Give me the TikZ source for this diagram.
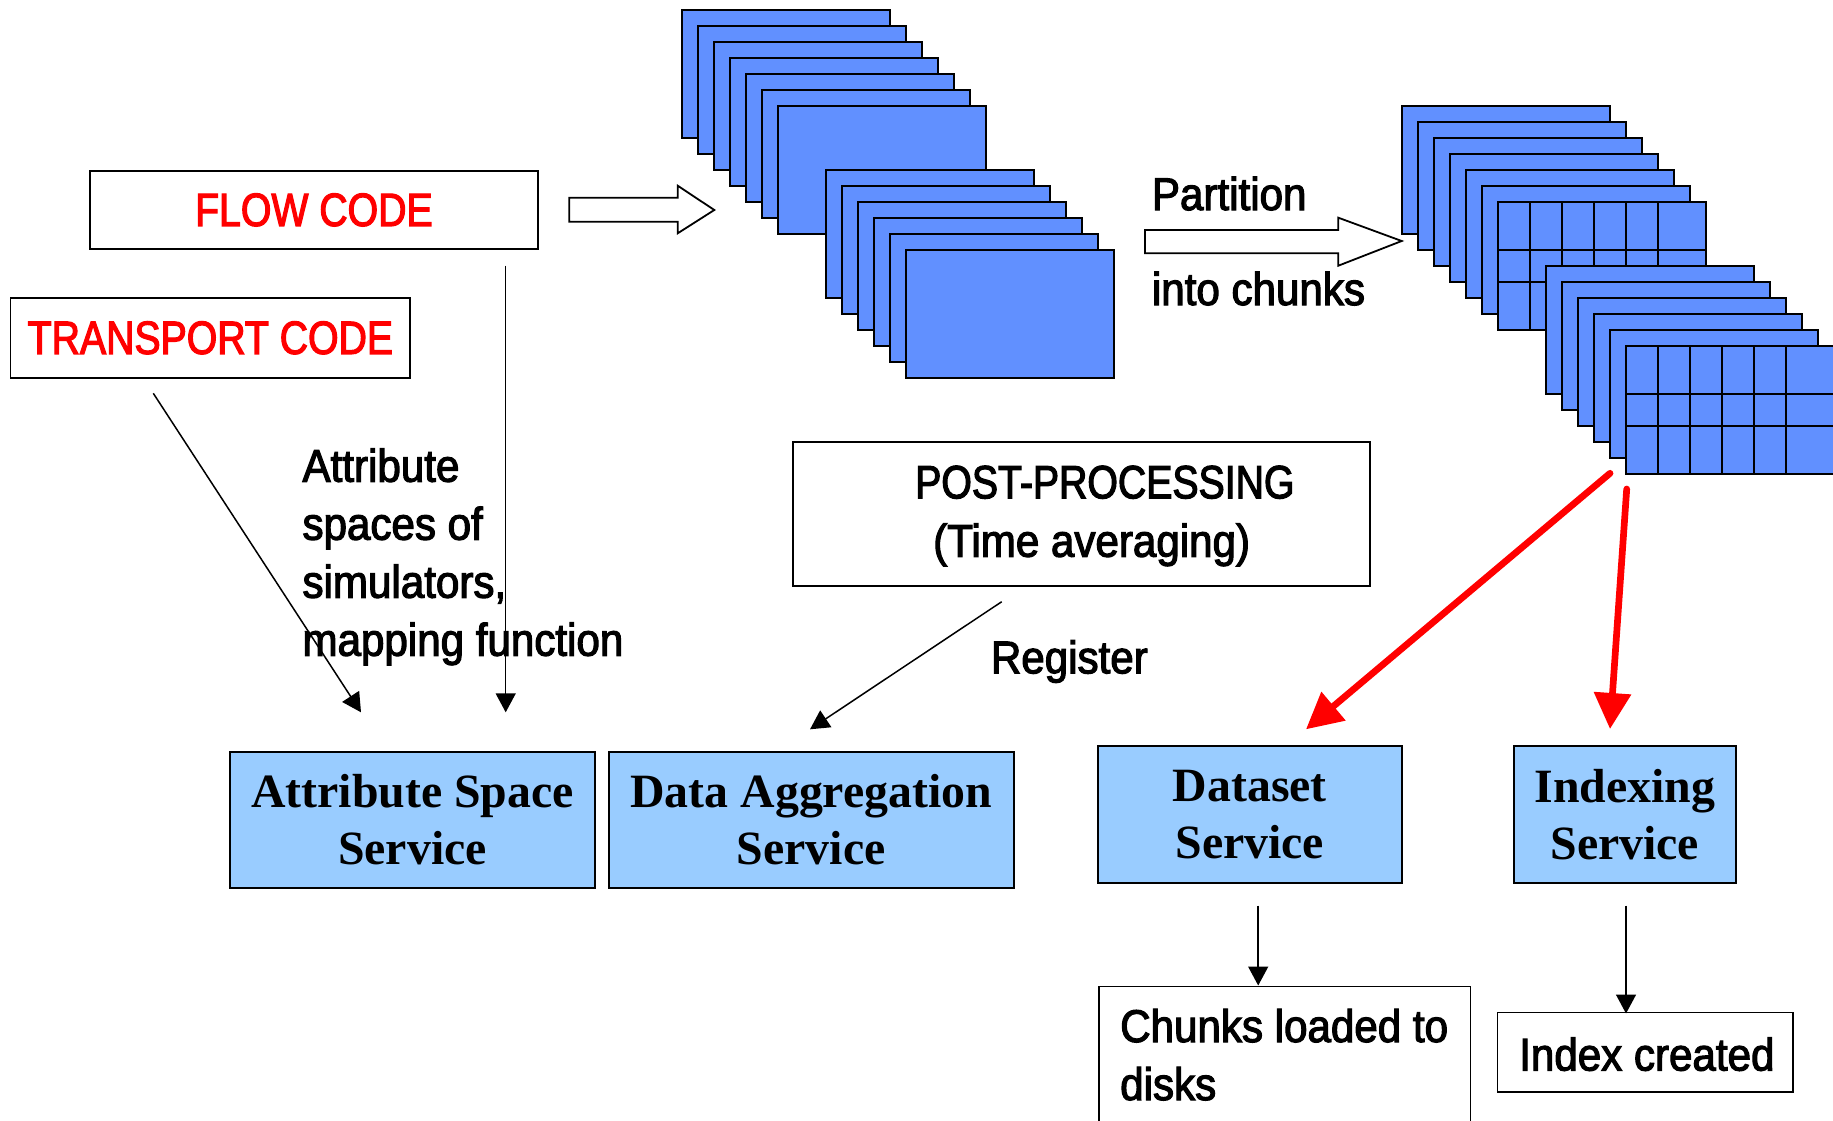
\documentclass[tikz,border=0pt]{standalone}
\usepackage{fontspec}
\usetikzlibrary{arrows.meta}

% Fonts: a narrow grotesque for labels, a bold serif for the services
\newfontfamily\labelfont[FakeStretch=0.92,FakeBold=2.5]{Liberation Sans}
\newfontfamily\capsfont[FakeStretch=0.84,FakeBold=2.5]{Liberation Sans}
\newfontfamily\servfont{Liberation Serif}

\definecolor{chunkblue}{RGB}{97,144,255}
\definecolor{svcblue}{RGB}{153,204,255}
\definecolor{codered}{RGB}{255,0,0}

\tikzset{
  plate/.style={draw=black, line width=1.8pt, fill=chunkblue},
  gridline/.style={draw=black, line width=1.8pt},
  hollowarrow/.style={draw=black, fill=white, line width=1.8pt, line join=miter},
  codebox/.style={draw=black, line width=1.8pt, fill=white, inner sep=0pt,
    text=codered, font=\capsfont\fontsize{46.7}{56}\selectfont},
  plainbox/.style={draw=black, line width=1.8pt, fill=white, inner sep=0pt},
  svcbox/.style={draw=black, line width=2pt, fill=svcblue, inner sep=0pt,
    align=center, font=\servfont\bfseries\fontsize{47.8}{57.4}\selectfont},
  lbl/.style={inner sep=0pt, anchor=base west,
    font=\labelfont\fontsize{45.8}{58}\selectfont},
  capslbl/.style={inner sep=0pt, anchor=base west,
    font=\capsfont\fontsize{46.7}{56}\selectfont},
  thinarrow/.style={draw=black, line width=1.5pt,
    -{Triangle[length=19pt,width=20pt]}},
  redarrow/.style={draw=codered, line width=6.7pt, line cap=round,
    -{Triangle[length=36pt,width=36pt]}},
}

\begin{document}
\begin{tikzpicture}[x=1pt, y=-1pt]
\useasboundingbox (0,0) rectangle (1833,1120);

% ---- raw data plates ----
\foreach \i in {0,...,6}
  \draw[plate] (681.7+16*\i, 10+16*\i) rectangle ++(208.3,127.7);
\foreach \i in {0,...,5}
  \draw[plate] (825.7+16*\i, 170+16*\i) rectangle ++(208.3,127.7);

% ---- partitioned plates ----
\foreach \i in {0,...,6}
  \draw[plate] (1402+16*\i, 105.7+16*\i) rectangle ++(208,128);
\begin{scope}[shift={(1498,201.7)}]
  \draw[gridline] \foreach \c in {32,64,...,160} {(\c,0) -- (\c,128)}
    (0,48) -- (208,48) (0,80) -- (208,80);
\end{scope}
\foreach \i in {0,...,5}
  \draw[plate] (1546+16*\i, 266+16*\i) rectangle ++(208,128);
\begin{scope}[shift={(1626,346)}]
  \draw[gridline] \foreach \c in {32,64,...,160} {(\c,0) -- (\c,128)}
    (0,48) -- (208,48) (0,80) -- (208,80);
\end{scope}

% ---- block arrows ----
\draw[hollowarrow] (569.3,197.7) -- (677.7,197.7) -- (677.7,185.7) -- (714.3,210)
  -- (677.7,233.3) -- (677.7,221.7) -- (569.3,221.7) -- cycle;
\draw[hollowarrow] (1145,230) -- (1338.3,230) -- (1338.3,217.7) -- (1401.7,241)
  -- (1338.3,265.7) -- (1338.3,253.3) -- (1145,253.3) -- cycle;
\node[lbl] (part1) at (1151.7,210) {Partition};
\node[lbl] (part2) at (1151.7,305) {into chunks};

% ---- source codes ----
\node[codebox, minimum width=447.8, minimum height=78.3] (flow) at (313.9,209.9) {FLOW CODE};
\node[codebox, minimum width=399.8, minimum height=80.3] (transport) at (210.4,337.85) {TRANSPORT CODE};

% ---- attribute label ----
\node[lbl] (attr1) at (302.3,481.7) {Attribute};
\node[lbl] (attr2) at (302.3,539.7) {spaces of};
\node[lbl] (attr3) at (302.3,597.7) {simulators,};
\node[lbl] (attr4) at (302.3,655.7) {mapping function};

% ---- post-processing ----
\node[plainbox, minimum width=576.7, minimum height=144] (post) at (1081.65,513.7) {};
\node[capslbl] (posttitle) at (915,498.3) {POST-PROCESSING};
\node[lbl] (postsub) at (933,556.7) {(Time averaging)};
\node[lbl] (register) at (990.7,673.3) {Register};

% ---- services ----
\node[svcbox, minimum width=365, minimum height=136] (attrsvc) at (412.5,819.7) {Attribute Space\\Service};
\node[svcbox, minimum width=404.5, minimum height=136] (aggsvc) at (811.25,819.7) {Data Aggregation\\Service};
\node[svcbox, minimum width=304, minimum height=137] (datasvc) at (1249.8,814.5) {Dataset\\Service};
\node[svcbox, minimum width=222.3, minimum height=137] (idxsvc) at (1624.85,814.5) {Indexing\\Service};

% ---- results ----
\node[plainbox, anchor=north west, minimum width=371.8, minimum height=160] (chunks) at (1097.7,985.5) {};
\node[lbl] (chunks1) at (1120,1042) {Chunks loaded to};
\node[lbl] (chunks2) at (1120,1100) {disks};
\node[plainbox, minimum width=295.5, minimum height=79.4] (index) at (1645.25,1052.2) {};
\node[lbl] (indexlbl) at (1519,1070.5) {Index created};

% ---- connector ends ----
\coordinate (flowout) at (505.7,265.7);
\coordinate (flowin) at (505.7,712.3);
\coordinate (transout) at (153.3,393.3);
\coordinate (transin) at (361,712.3);
\coordinate (postout) at (1001.7,601.7);
\coordinate (aggin) at (810,729.3);
\coordinate (plateout1) at (1610,473.3);
\coordinate (datain) at (1306,729.3);
\coordinate (plateout2) at (1626.7,489);
\coordinate (idxin) at (1610,729);
\coordinate (dataout) at (1258.2,905.7);
\coordinate (chunksin) at (1258.2,985.5);
\coordinate (idxout) at (1626,905.7);
\coordinate (indexin) at (1626,1013.5);

% ---- connectors ----
\draw[thinarrow] (flowout) -- (flowin);
\draw[thinarrow] (transout) -- (transin);
\draw[thinarrow] (postout) -- (aggin);
\draw[redarrow] (plateout1) -- (datain);
\draw[redarrow] (plateout2) -- (idxin);
\draw[thinarrow] (dataout) -- (chunksin);
\draw[thinarrow] (idxout) -- (indexin);
\end{tikzpicture}
\end{document}
